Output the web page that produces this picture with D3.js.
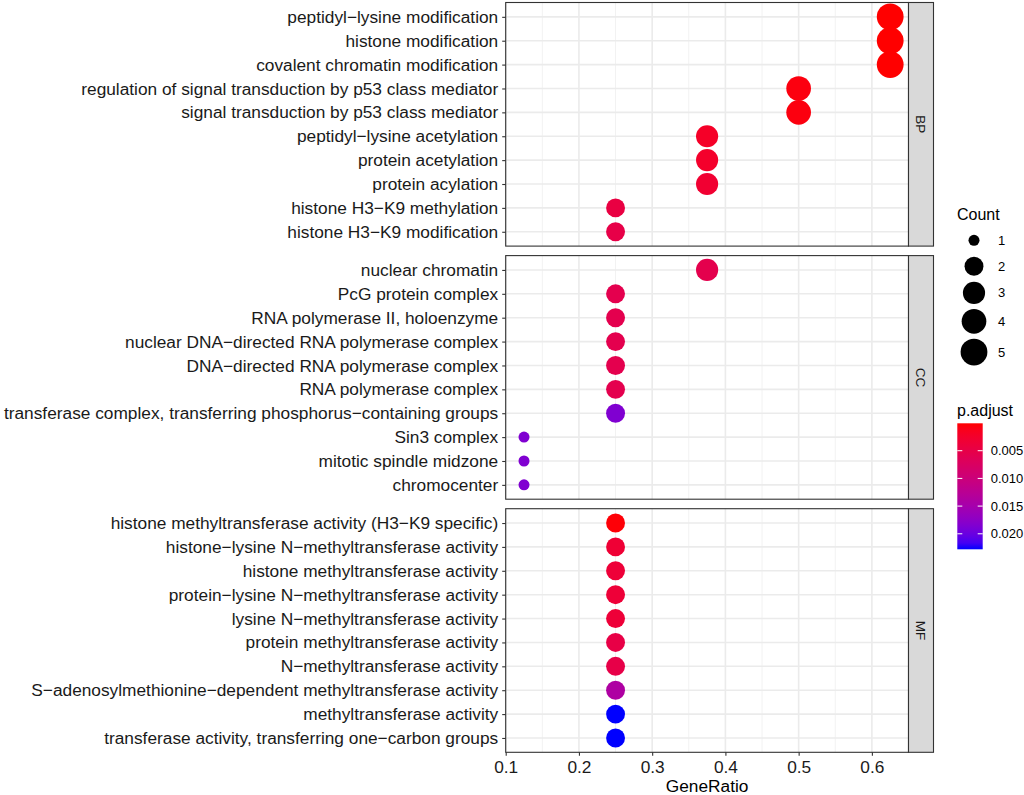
<!DOCTYPE html>
<html>
<head>
<meta charset="utf-8">
<script src="https://cdn.jsdelivr.net/npm/d3@7"></script>
<style>
  body { margin: 0; background: #fff; }
  svg { font-family: "Liberation Sans", Arial, sans-serif; }
</style>
</head>
<body>
<svg id="chart" width="1024" height="795"></svg>
<script>
// ---- data ----
const bpTerms = ["peptidyl−lysine modification", "histone modification", "covalent chromatin modification",
  "regulation of signal transduction by p53 class mediator", "signal transduction by p53 class mediator",
  "peptidyl−lysine acetylation", "protein acetylation", "protein acylation",
  "histone H3−K9 methylation", "histone H3−K9 modification"];
const bpRatio = [0.625, 0.625, 0.625, 0.5, 0.5, 0.375, 0.375, 0.375, 0.25, 0.25];
const bpCount = [5, 5, 5, 4, 4, 3, 3, 3, 2, 2];
const bpPadj = [0.00005, 0.00005, 0.00005, 0.0006, 0.0006, 0.0022, 0.0024, 0.003, 0.0045, 0.005];

const ccTerms = ["nuclear chromatin", "PcG protein complex", "RNA polymerase II, holoenzyme",
  "nuclear DNA−directed RNA polymerase complex", "DNA−directed RNA polymerase complex",
  "RNA polymerase complex", "transferase complex, transferring phosphorus−containing groups",
  "Sin3 complex", "mitotic spindle midzone", "chromocenter"];
const ccRatio = [0.375, 0.25, 0.25, 0.25, 0.25, 0.25, 0.25, 0.125, 0.125, 0.125];
const ccCount = [3, 2, 2, 2, 2, 2, 2, 1, 1, 1];
const ccPadj = [0.0055, 0.0056, 0.0056, 0.0056, 0.0056, 0.0056, 0.0185, 0.0185, 0.0185, 0.0185];

const mfTerms = ["histone methyltransferase activity (H3−K9 specific)", "histone−lysine N−methyltransferase activity",
  "histone methyltransferase activity", "protein−lysine N−methyltransferase activity",
  "lysine N−methyltransferase activity", "protein methyltransferase activity", "N−methyltransferase activity",
  "S−adenosylmethionine−dependent methyltransferase activity", "methyltransferase activity",
  "transferase activity, transferring one−carbon groups"];
const mfRatio = [0.25, 0.25, 0.25, 0.25, 0.25, 0.25, 0.25, 0.25, 0.25, 0.25];
const mfCount = [2, 2, 2, 2, 2, 2, 2, 2, 2, 2];
const mfPadj = [0.0003, 0.0033, 0.0035, 0.0035, 0.0035, 0.0048, 0.005, 0.014, 0.0228, 0.0228];

const panelNames = ["BP", "CC", "MF"];
const xTicks = [0.1, 0.2, 0.3, 0.4, 0.5, 0.6];
const countLevels = [1, 2, 3, 4, 5];
const padjTicks = [0.005, 0.010, 0.015, 0.020];

// ---- layout ----
const svg = d3.select("#chart");
const plotL = 505.7, plotR = 908.5, stripW = 25;
const plotT = 2.5, plotB = 752.3, gap = 9.5;
const panelH = (plotB - plotT - 2 * gap) / 3;
const axisFont = 17.3;

const panels = [
  {name: panelNames[0], terms: bpTerms, ratio: bpRatio, count: bpCount, padj: bpPadj},
  {name: panelNames[1], terms: ccTerms, ratio: ccRatio, count: ccCount, padj: ccPadj},
  {name: panelNames[2], terms: mfTerms, ratio: mfRatio, count: mfCount, padj: mfPadj}
];

const allPadj = bpPadj.concat(ccPadj, mfPadj);
const x = d3.scaleLinear().domain([0.1, 0.65]).range([plotL, plotR]);
const r = d3.scaleSqrt().domain([0, 4]).range([5.5, 13.4]);   // applied to count-1 (ggplot area scale)
const color = d3.scaleLinear().domain(d3.extent(allPadj))
  .range(["red", "blue"]).interpolate(d3.interpolateLab);

const minorTicks = [0.15, 0.25, 0.35, 0.45, 0.55];

panels.forEach(function(p, i) {
  let y0 = plotT + i * (panelH + gap);
  let y = d3.scalePoint().domain(p.terms).range([y0, y0 + panelH]).padding(0.6);
  let g = svg.append("g");

  // background + grid
  g.append("rect").attr("x", plotL).attr("y", y0).attr("width", plotR - plotL).attr("height", panelH)
    .attr("fill", "#fff");
  g.selectAll("line.minor").data(minorTicks).enter().append("line")
    .attr("x1", d => x(d)).attr("x2", d => x(d)).attr("y1", y0).attr("y2", y0 + panelH)
    .attr("stroke", "#F2F2F2").attr("stroke-width", 1);
  g.selectAll("line.vmajor").data(xTicks).enter().append("line")
    .attr("x1", d => x(d)).attr("x2", d => x(d)).attr("y1", y0).attr("y2", y0 + panelH)
    .attr("stroke", "#EBEBEB").attr("stroke-width", 1.6);
  g.selectAll("line.hmajor").data(p.terms).enter().append("line")
    .attr("x1", plotL).attr("x2", plotR).attr("y1", d => y(d)).attr("y2", d => y(d))
    .attr("stroke", "#EBEBEB").attr("stroke-width", 1.6);

  // points
  g.selectAll("circle").data(p.terms).enter().append("circle")
    .attr("cx", (d, j) => x(p.ratio[j]))
    .attr("cy", d => y(d))
    .attr("r", (d, j) => r(p.count[j] - 1))
    .attr("fill", (d, j) => color(p.padj[j]));

  // border
  g.append("rect").attr("x", plotL).attr("y", y0).attr("width", plotR - plotL).attr("height", panelH)
    .attr("fill", "none").attr("stroke", "#333").attr("stroke-width", 1.1);

  // y axis
  let yAxis = d3.axisLeft(y).tickSize(3.5).tickPadding(4);
  let ga = g.append("g").attr("transform", `translate(${plotL},0)`).call(yAxis);
  ga.select(".domain").remove();
  ga.selectAll(".tick line").attr("stroke", "#333").attr("stroke-width", 1.1);
  ga.selectAll(".tick text").attr("fill", "#1a1a1a").attr("font-size", axisFont)
    .attr("font-family", "Liberation Sans, Arial, sans-serif");

  // strip
  g.append("rect").attr("x", plotR).attr("y", y0).attr("width", stripW).attr("height", panelH)
    .attr("fill", "#D9D9D9").attr("stroke", "#333").attr("stroke-width", 1.1);
  g.append("text")
    .attr("transform", `translate(${plotR + stripW / 2},${y0 + panelH / 2}) rotate(90)`)
    .attr("text-anchor", "middle").attr("dy", "0.35em")
    .attr("font-size", 13.5).attr("fill", "#1a1a1a")
    .text(p.name);

  // x axis on the last panel
  if (i === panels.length - 1) {
    let xAxis = d3.axisBottom(x).tickValues(xTicks).tickFormat(d3.format(".1f"))
      .tickSize(3.5).tickPadding(4.5);
    let gx = g.append("g").attr("transform", `translate(0,${y0 + panelH})`).call(xAxis);
    gx.select(".domain").remove();
    gx.selectAll(".tick line").attr("stroke", "#333").attr("stroke-width", 1.1);
    gx.selectAll(".tick text").attr("fill", "#1a1a1a").attr("font-size", axisFont)
      .attr("font-family", "Liberation Sans, Arial, sans-serif");
    g.append("text").attr("x", (plotL + plotR) / 2).attr("y", 792)
      .attr("text-anchor", "middle").attr("font-size", axisFont).attr("fill", "#000")
      .text("GeneRatio");
  }
});

// ---- Count legend ----
const lg = svg.append("g");
lg.append("text").attr("x", 957).attr("y", 220).attr("font-size", 16).attr("fill", "#000").text("Count");
let cy = 240.3;
countLevels.forEach(function(c, k) {
  if (k > 0) {
    let hPrev = Math.max(2 * r(countLevels[k - 1] - 1) + 5, 26);
    let hCur = Math.max(2 * r(c - 1) + 5, 26);
    cy += (hPrev + hCur) / 2;
  }
  lg.append("circle").attr("cx", 974).attr("cy", cy).attr("r", r(c - 1)).attr("fill", "#000");
  lg.append("text").attr("x", 998).attr("y", cy).attr("dy", "0.35em")
    .attr("font-size", 13).attr("fill", "#000").text(c);
});

// ---- p.adjust colorbar ----
const barX = 957.3, barY = 423.3, barW = 25.4, barH = 126;
svg.append("text").attr("x", 957).attr("y", 416).attr("font-size", 16).attr("fill", "#000").text("p.adjust");
const defs = svg.append("defs");
const grad = defs.append("linearGradient").attr("id", "padjGrad")
  .attr("x1", 0).attr("x2", 0).attr("y1", 0).attr("y2", 1);
const dom = color.domain();
d3.range(21).forEach(function(k) {
  let t = k / 20;
  grad.append("stop").attr("offset", t).attr("stop-color", color(dom[0] + t * (dom[1] - dom[0])));
});
svg.append("rect").attr("x", barX).attr("y", barY).attr("width", barW).attr("height", barH)
  .attr("fill", "url(#padjGrad)");
const by = d3.scaleLinear().domain(dom).range([barY, barY + barH]);
padjTicks.forEach(function(v) {
  let yy = by(v);
  svg.append("line").attr("x1", barX).attr("x2", barX + 5).attr("y1", yy).attr("y2", yy)
    .attr("stroke", "#fff").attr("stroke-width", 1);
  svg.append("line").attr("x1", barX + barW - 5).attr("x2", barX + barW).attr("y1", yy).attr("y2", yy)
    .attr("stroke", "#fff").attr("stroke-width", 1);
  svg.append("text").attr("x", barX + barW + 8).attr("y", yy).attr("dy", "0.35em")
    .attr("font-size", 13).attr("fill", "#000").text(d3.format(".3f")(v));
});
</script>
</body>
</html>
